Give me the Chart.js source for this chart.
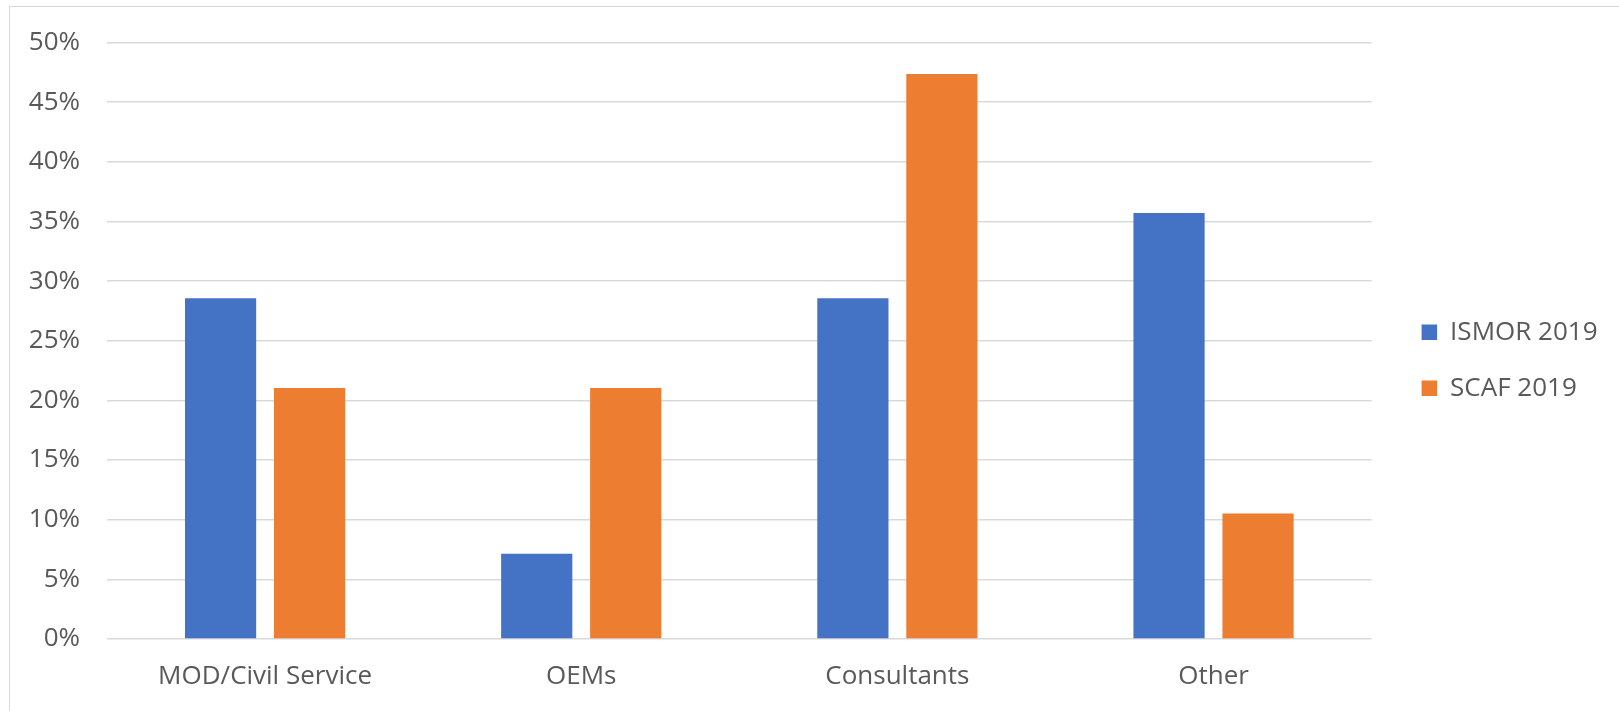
<!DOCTYPE html>
<html>
<head>
<meta charset="utf-8">
<script src="https://cdn.jsdelivr.net/npm/chart.js@4/dist/chart.umd.min.js"></script>
<style>
  html, body { margin: 0; padding: 0; background: #ffffff; }
  #wrap { position: absolute; left: 0; top: 0; width: 1619px; height: 711px; }
  #frame { position: absolute; left: 9px; top: 6px; width: 1700px; height: 800px;
           border-top: 1.5px solid #d9d9d9; border-left: 1.5px solid #d9d9d9; pointer-events: none; }
</style>
</head>
<body>
<div id="wrap"><canvas id="c"></canvas></div>
<div id="frame"></div>
<script>
const categories = ["MOD/Civil Service", "OEMs", "Consultants", "Other"];
const ismor2019 = [28.57, 7.14, 28.57, 35.71];
const scaf2019 = [21.05, 21.05, 47.37, 10.53];
const seriesNames = ["ISMOR 2019", "SCAF 2019"];
const yTicksMax = 50;
const yTickStep = 5;

Chart.defaults.font.family = "'Open Sans', sans-serif";
Chart.defaults.font.size = 26;
Chart.defaults.color = "#595959";

new Chart(document.getElementById("c"), {
  type: "bar",
  data: {
    labels: categories,
    datasets: [
      { label: seriesNames[0], data: ismor2019, backgroundColor: "#4472c4",
        categoryPercentage: 0.563, barPercentage: 0.8 },
      { label: seriesNames[1], data: scaf2019, backgroundColor: "#ed7d31",
        categoryPercentage: 0.563, barPercentage: 0.8 }
    ]
  },
  options: {
    responsive: true,
    maintainAspectRatio: false,
    animation: false,
    layout: { padding: { top: 28.3, bottom: 18.8, left: 0, right: 11.5 } },
    plugins: {
      tooltip: { enabled: false },
      title: { display: true, text: "", padding: 0, font: { size: 14.2, lineHeight: 1 } },
      legend: {
        position: "right",
        labels: { boxWidth: 15.5, boxHeight: 15.5, padding: 30, color: "#595959",
                  font: { size: 26 } }
      }
    },
    scales: {
      x: {
        grid: { display: false, drawTicks: false },
        border: { display: false },
        ticks: { padding: 22, color: "#595959", font: { size: 26 } },
        afterFit: (s) => { s.height = 53.2; }
      },
      y: {
        min: 0, max: yTicksMax,
        grid: { color: "#d9d9d9", lineWidth: 1.5, drawTicks: false },
        border: { display: false },
        ticks: { stepSize: yTickStep, padding: 27, color: "#595959", font: { size: 26 },
                 callback: (v) => v + "%" },
        afterFit: (s) => { s.width = 107; }
      },
      y2: {
        position: "right",
        display: true,
        grid: { display: false, drawTicks: false },
        border: { display: false },
        ticks: { display: false },
        afterFit: (s) => { s.width = 20; }
      }
    }
  }
});
</script>
</body>
</html>
